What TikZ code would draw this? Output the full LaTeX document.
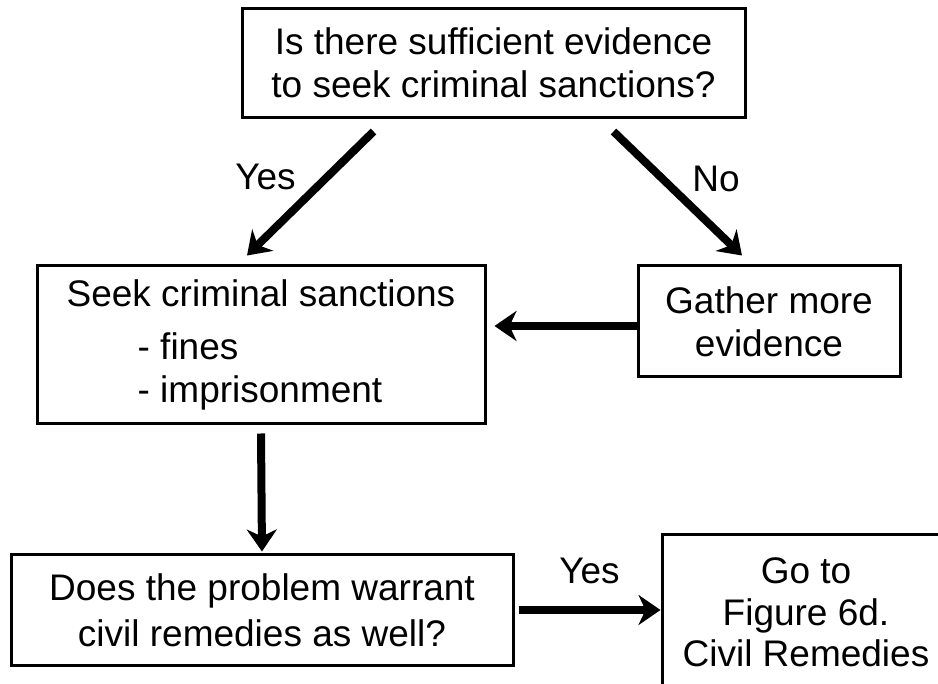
\documentclass[tikz,border=0pt]{standalone}
\usepackage{fontspec}
\setmainfont{Liberation Sans}
\usetikzlibrary{arrows.meta, positioning, calc}

\begin{document}
\begin{tikzpicture}[x=1pt, y=-1pt,
  box/.style={draw, line width=3pt, rectangle, inner sep=0pt,
              font=\fontsize{37}{43}\selectfont, align=center},
  flow/.style={line width=8pt,
               -{Stealth[length=22pt, width=30pt, inset=7pt]}},
  lbl/.style={inner sep=0pt, font=\fontsize{37}{43}\selectfont}]
  % page is 938 x 684, measured in pixels of the scan
  \clip (0,0) rectangle (938,684);
  % Boxes
  \node[box, minimum width=503pt, minimum height=109pt] (question) at (493.5,63)
    {Is there sufficient evidence\\to seek criminal sanctions?};
  \node[box, align=left,
        minimum width=448pt, minimum height=158pt] (seek) at (261,345)
    {Seek criminal sanctions\\[10pt]
     \hspace*{71pt}- fines\\
     \hspace*{71pt}- imprisonment};
  \node[box, minimum width=262pt, minimum height=111pt] (gather) at (769,321.5)
    {Gather more\\evidence};
  \node[box, minimum width=502pt, minimum height=110pt] (warrant) at (262,610)
    {Does the problem warrant\\[3pt]civil remedies as well?};
  \node[box, font=\fontsize{37}{41.5}\selectfont,
        minimum width=288pt, minimum height=155pt] (civil) at (806,612.5)
    {Go to\\Figure 6d.\\Civil Remedies};
  % Arrows
  \draw[flow] ([xshift=-120pt,yshift=-12.5pt]question.south)
    -- node[lbl, pos=0.37, left=27pt] (yes1) {Yes}
       ([xshift=-14pt,yshift=9pt]seek.north);
  \draw[flow] ([xshift=120pt,yshift=-12.5pt]question.south)
    -- node[lbl, pos=0.38, right=26pt] (no1) {No}
       ([xshift=-27pt,yshift=9pt]gather.north);
  \draw[flow, shorten >=8pt] ([yshift=-4.5pt]gather.west)
    -- ([yshift=-4.5pt]gather.west -| seek.east);
  \draw[flow, shorten >=2pt] ([yshift=-8pt]seek.south) -- (warrant.north);
  \draw[flow] ([xshift=4pt]warrant.east)
    -- node[lbl, above=22pt] (yes2) {Yes} (warrant.east -| civil.west);
\end{tikzpicture}
\end{document}
